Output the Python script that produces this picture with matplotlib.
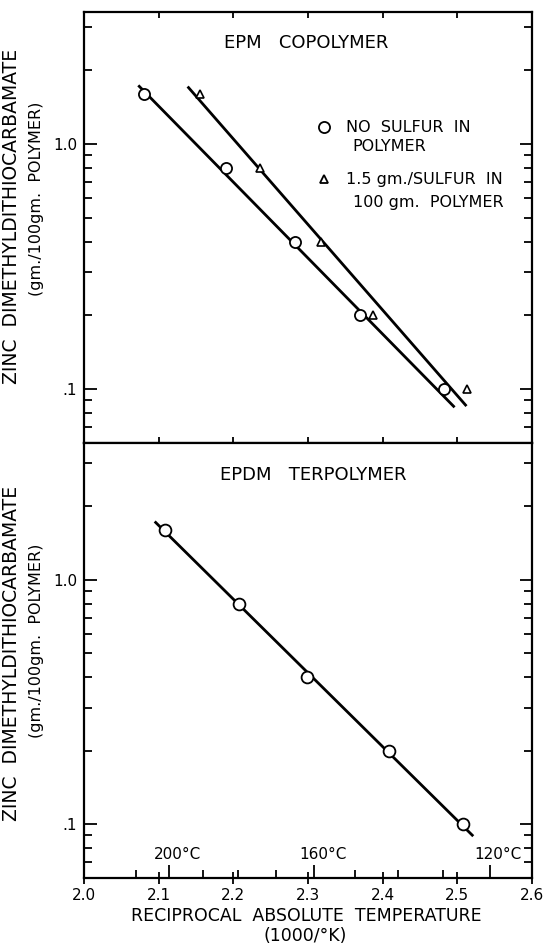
import matplotlib
matplotlib.use('Agg')
import matplotlib.pyplot as plt
from matplotlib.ticker import LogLocator, NullFormatter, FixedLocator, FixedFormatter
from matplotlib.lines import Line2D

plt.rcParams['font.family'] = ['DejaVu Sans', 'Noto Sans']

# EPM copolymer, no sulfur in polymer
epm_x = [2.081, 2.190, 2.282, 2.370, 2.482]
epm_y = [1.6, 0.8, 0.4, 0.2, 0.1]
# EPM copolymer, 1.5 gm sulfur in 100 gm polymer
epms_x = [2.156, 2.236, 2.317, 2.387, 2.513]
epms_y = [1.6, 0.8, 0.4, 0.2, 0.1]
# EPDM terpolymer
epdm_x = [2.109, 2.208, 2.298, 2.408, 2.507]
epdm_y = [1.6, 0.8, 0.4, 0.2, 0.1]

# hand-drawn fit lines (end points)
epm_fit_x = [2.074, 2.495]
epm_fit_y = [1.72, 0.085]
epms_fit_x = [2.140, 2.511]
epms_fit_y = [1.70, 0.086]
epdm_fit_x = [2.096, 2.520]
epdm_fit_y = [1.72, 0.090]

x_ticks = [2.0, 2.1, 2.2, 2.3, 2.4, 2.5, 2.6]
x_labels = ['2.0', '2.1', '2.2', '2.3', '2.4', '2.5', '2.6']
y_ticks = [0.1, 1.0]
y_labels = ['.1', '1.0']
temp_c = [210, 200, 190, 180, 170, 160, 150, 140, 130, 120]
temp_labeled = [200, 160, 120]

W, H = 543, 947
fig = plt.figure(figsize=(W / 100, H / 100), dpi=100)
L, R = 84, 532
ax1 = fig.add_axes([L / W, 1 - 443 / H, (R - L) / W, 431 / H])
ax2 = fig.add_axes([L / W, 1 - 878 / H, (R - L) / W, 435 / H])


def style(ax, ylim):
    ax.set_yscale('log')
    ax.set_xlim(2.0, 2.6)
    ax.set_ylim(*ylim)
    ax.yaxis.set_major_locator(FixedLocator(y_ticks))
    ax.yaxis.set_major_formatter(FixedFormatter(y_labels))
    ax.yaxis.set_minor_locator(LogLocator(base=10, subs=range(2, 10)))
    ax.yaxis.set_minor_formatter(NullFormatter())
    ax.set_xticks(x_ticks)
    ax.tick_params(axis='y', which='both', direction='in', left=True, right=True,
                   width=1.3, labelsize=11, pad=5)
    ax.tick_params(axis='y', which='major', length=9)
    ax.tick_params(axis='y', which='minor', length=5.5)
    for s in ax.spines.values():
        s.set_linewidth(1.6)


style(ax1, (0.0602, 3.46))
style(ax2, (0.0601, 3.64))

ax1.tick_params(axis='x', which='major', direction='in', top=True, bottom=True,
                labelbottom=False, length=4, width=1.3)
ax2.set_xticklabels(x_labels)
ax2.tick_params(axis='x', which='major', direction='inout', top=False, bottom=True,
                length=8, width=1.3, labelsize=11, pad=3)

# top panel
ax1.plot(epm_fit_x, epm_fit_y, color='black', lw=2.0, zorder=2)
ax1.plot(epms_fit_x, epms_fit_y, color='black', lw=2.0, zorder=2)
ax1.plot(epm_x, epm_y, 'o', ms=8, mfc='white', mec='black', mew=1.3, zorder=3)
ax1.plot(epms_x, epms_y, '^', ms=6, mfc='white', mec='black', mew=1.2, zorder=3)
ax1.text(0.497, 0.929, 'EPM   COPOLYMER', transform=ax1.transAxes,
         ha='center', va='center', fontsize=13)

h_circ = Line2D([], [], ls='none', marker='o', ms=8, mfc='white', mec='black', mew=1.3)
h_tri = Line2D([], [], ls='none', marker='^', ms=6, mfc='white', mec='black', mew=1.3)
leg = ax1.legend([h_circ, h_tri], ['NO  SULFUR  IN', '1.5 gm./SULFUR  IN'],
                 loc='upper left', bbox_to_anchor=(0.52, 0.749), frameon=False,
                 fontsize=11.5, handlelength=0.9, handletextpad=0.9,
                 labelspacing=2.33, borderpad=0, borderaxespad=0)
ax1.text(0.600, 0.687, 'POLYMER', transform=ax1.transAxes, ha='left',
         va='center', fontsize=11.5)
ax1.text(0.600, 0.559, '100 gm.  POLYMER', transform=ax1.transAxes, ha='left',
         va='center', fontsize=11.5)

# bottom panel
ax2.plot(epdm_fit_x, epdm_fit_y, color='black', lw=2.0, zorder=2)
ax2.plot(epdm_x, epdm_y, 'o', ms=8.5, mfc='white', mec='black', mew=1.3, zorder=3)
ax2.text(0.511, 0.926, 'EPDM   TERPOLYMER', transform=ax2.transAxes,
         ha='center', va='center', fontsize=13)

# Celsius scale along the bottom axis
tx = ax2.twiny()
tx.set_xlim(ax2.get_xlim())
tx.xaxis.set_ticks_position('bottom')
tx.set_xticks([1000 / (t + 273.15) for t in temp_labeled])
tx.set_xticks([1000 / (t + 273.15) for t in temp_c if t not in temp_labeled], minor=True)
tx.tick_params(axis='x', which='both', direction='in', labelbottom=False,
               labeltop=False, top=False, bottom=True, width=1.3)
tx.tick_params(axis='x', which='major', length=9.5)
tx.tick_params(axis='x', which='minor', length=5.5)
for s in tx.spines.values():
    s.set_visible(False)
for t in temp_labeled:
    ax2.annotate(f'{t}°C', xy=(1000 / (t + 273.15), 0.053),
                 xycoords=('data', 'axes fraction'), xytext=(6, 0),
                 textcoords='offset points', ha='center', va='center', fontsize=11)

# axis labels
for yc, ys in [(216, 199), (653, 641)]:
    fig.text(12 / W, 1 - yc / H, 'ZINC  DIMETHYLDITHIOCARBAMATE', rotation=90,
             ha='center', va='center', fontsize=13.5)
    fig.text(37 / W, 1 - ys / H, '(gm./100gm.  POLYMER)', rotation=90,
             ha='center', va='center', fontsize=11.5)
fig.text(306 / W, 1 - 916 / H, 'RECIPROCAL  ABSOLUTE  TEMPERATURE',
         ha='center', va='center', fontsize=12.5)
fig.text(305 / W, 1 - 936 / H, '(1000/°K)', ha='center', va='center', fontsize=12.5)

fig.savefig('out.png', dpi=100)
